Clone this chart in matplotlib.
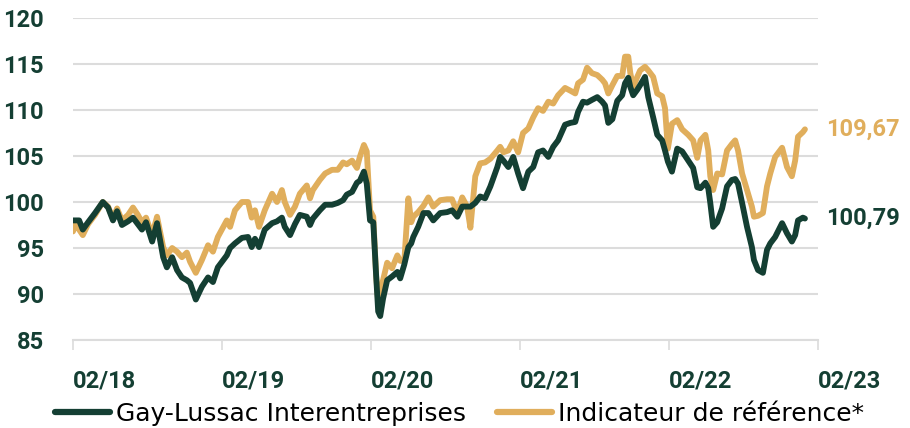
import matplotlib
matplotlib.use("Agg")
import matplotlib.pyplot as plt
import pandas as pd

dates = [
    "2018-02-28", "2018-03-07", "2018-03-15", "2018-03-24", "2018-04-06", "2018-04-23",
    "2018-05-12", "2018-05-25", "2018-06-06", "2018-06-16", "2018-06-28", "2018-07-13",
    "2018-07-25", "2018-08-06", "2018-08-16", "2018-08-26", "2018-09-10", "2018-09-22",
    "2018-10-07", "2018-10-16", "2018-10-29", "2018-11-10", "2018-11-22", "2018-12-04",
    "2018-12-12", "2018-12-26", "2019-01-10", "2019-01-25", "2019-02-06", "2019-02-18",
    "2019-03-12", "2019-03-20", "2019-04-01", "2019-04-18", "2019-05-03", "2019-05-12",
    "2019-05-20", "2019-05-30", "2019-06-13", "2019-07-01", "2019-07-13", "2019-07-25",
    "2019-08-01", "2019-08-14", "2019-08-26", "2019-09-07", "2019-09-24", "2019-10-02",
    "2019-10-09", "2019-10-26", "2019-11-08", "2019-11-25", "2019-12-09", "2019-12-22",
    "2019-12-31", "2020-01-13", "2020-01-25", "2020-02-01", "2020-02-11", "2020-02-18",
    "2020-02-26", "2020-03-05", "2020-03-12", "2020-03-17", "2020-03-22", "2020-03-29",
    "2020-04-08", "2020-04-20", "2020-05-03", "2020-05-10", "2020-05-20", "2020-05-30",
    "2020-06-06", "2020-06-11", "2020-06-23", "2020-07-06", "2020-07-18", "2020-07-30",
    "2020-08-16", "2020-09-02", "2020-09-14", "2020-09-27", "2020-10-09", "2020-10-21",
    "2020-10-29", "2020-11-10", "2020-11-22", "2020-12-04", "2020-12-17", "2021-01-03",
    "2021-01-10", "2021-01-18", "2021-01-30", "2021-02-11", "2021-02-23", "2021-03-07",
    "2021-03-20", "2021-04-01", "2021-04-13", "2021-04-25", "2021-05-08", "2021-05-20",
    "2021-06-01", "2021-06-18", "2021-07-01", "2021-07-13", "2021-07-20", "2021-08-01",
    "2021-08-11", "2021-08-23", "2021-09-05", "2021-09-17", "2021-09-24", "2021-10-02",
    "2021-10-12", "2021-10-24", "2021-11-05", "2021-11-12", "2021-11-20", "2021-11-25",
    "2021-12-02", "2021-12-12", "2021-12-19", "2021-12-31", "2022-01-08", "2022-01-20",
    "2022-01-30", "2022-02-11", "2022-02-18", "2022-02-25", "2022-03-07", "2022-03-20",
    "2022-04-01", "2022-04-16", "2022-04-28", "2022-05-08", "2022-05-16", "2022-05-28",
    "2022-06-04", "2022-06-09", "2022-06-16", "2022-06-26", "2022-07-08", "2022-07-20",
    "2022-08-01", "2022-08-09", "2022-08-16", "2022-08-26", "2022-09-07", "2022-09-19",
    "2022-09-24", "2022-10-04", "2022-10-16", "2022-10-26", "2022-11-03", "2022-11-15",
    "2022-12-02", "2022-12-14", "2022-12-26", "2023-01-03", "2023-01-10", "2023-01-22",
    "2023-01-27",
]

fund = [
    98.0, 98.0, 98.0, 97.0, 97.8, 98.8,
    100.0, 99.4, 98.0, 99.0, 97.5, 97.9,
    98.3, 97.6, 97.0, 97.8, 95.7, 97.7,
    94.0, 92.9, 94.0, 92.6, 91.8, 91.5,
    91.2, 89.4, 90.8, 91.8, 91.3, 92.9,
    94.2, 95.0, 95.5, 96.1, 96.2, 95.1,
    96.0, 95.1, 97.0, 97.7, 97.9, 98.3,
    97.3, 96.4, 97.6, 98.6, 98.4, 97.5,
    98.2, 99.1, 99.7, 99.7, 99.9, 100.2,
    100.8, 101.1, 102.1, 102.3, 103.3, 102.0,
    98.0, 97.8, 92.0, 88.1, 87.6, 89.5,
    91.5, 91.9, 92.4, 91.7, 93.2, 95.1,
    95.5, 96.2, 97.3, 98.8, 98.8, 98.0,
    98.8, 98.9, 99.1, 98.4, 99.5, 99.5,
    99.5, 99.9, 100.6, 100.4, 101.7, 103.8,
    104.9, 104.5, 103.8, 104.9, 103.1, 101.5,
    103.3, 103.8, 105.4, 105.6, 104.9, 106.0,
    106.7, 108.4, 108.6, 108.7, 109.8, 110.9,
    110.8, 111.1, 111.4, 110.9, 110.5, 108.6,
    109.0, 111.0, 111.6, 112.9, 113.5, 112.5,
    111.6, 112.2, 112.7, 113.6, 111.4, 109.2,
    107.3, 106.7, 105.6, 104.4, 103.3, 105.8,
    105.5, 104.5, 103.7, 101.6, 101.5, 102.1,
    101.5, 99.9, 97.3, 97.8, 99.3, 101.7,
    102.4, 102.5, 102.0, 99.9, 97.3, 95.1,
    93.7, 92.6, 92.3, 94.8, 95.5, 96.2,
    97.7, 96.6, 95.7, 96.4, 98.0, 98.3,
    98.2,
]

benchmark = [
    96.8, 97.8, 97.0, 96.4, 97.6, 98.6,
    100.0, 99.5, 98.2, 99.3, 98.0, 98.6,
    99.4, 98.6, 97.8, 98.3, 96.4, 98.4,
    95.1, 94.2, 95.0, 94.6, 94.0, 94.5,
    93.5, 92.3, 93.7, 95.3, 94.6, 96.2,
    98.0, 97.3, 99.1, 100.0, 100.0, 98.3,
    99.1, 97.3, 99.1, 100.9, 100.0, 101.3,
    100.0, 98.6, 99.5, 100.9, 101.8, 100.4,
    101.3, 102.4, 103.1, 103.5, 103.5, 104.3,
    104.1, 104.5, 103.7, 104.9, 106.2, 105.5,
    99.1, 98.4, 92.0, 89.2, 90.2, 91.5,
    93.4, 92.8, 94.2, 93.6, 93.6, 100.4,
    97.8, 98.4, 98.9, 99.6, 100.5, 99.5,
    100.2, 100.3, 100.3, 98.8, 100.5, 99.5,
    97.2, 102.8, 104.2, 104.3, 104.7, 105.6,
    106.0, 105.4, 105.6, 106.6, 105.4, 107.5,
    108.0, 109.2, 110.2, 109.9, 110.9, 110.7,
    111.6, 112.4, 112.1, 111.8, 112.9, 113.3,
    114.6, 114.0, 113.8, 113.3, 112.9, 111.8,
    112.7, 113.7, 113.7, 115.8, 115.8, 114.0,
    112.5, 113.6, 114.3, 114.7, 114.3, 113.6,
    111.8, 111.5, 110.2, 105.8, 108.5, 108.9,
    107.9, 107.3, 106.7, 104.8, 106.7, 107.3,
    105.6, 102.8, 101.3, 103.1, 103.0, 105.6,
    106.3, 106.7, 105.6, 103.1, 101.3, 99.5,
    98.4, 98.5, 98.8, 101.7, 103.1, 104.9,
    105.9, 103.8, 102.8, 104.5, 107.1, 107.6,
    107.9,
]

series_names = ["Gay-Lussac Interentreprises", "Indicateur de référence*"]
end_labels = ["100,79", "109,67"]
tick_dates = ["2018-02-28", "2019-02-28", "2020-02-28", "2021-02-28", "2022-02-28", "2023-02-28"]
tick_labels = ["02/18", "02/19", "02/20", "02/21", "02/22", "02/23"]
y_ticks = [85, 90, 95, 100, 105, 110, 115, 120]

GREEN = "#143f33"
GOLD = "#e0ae5c"
GRID = "#dcdcdc"

plt.rcParams['font.family'] = ['Roboto', 'DejaVu Sans']

x = pd.to_datetime(dates)
xt = pd.to_datetime(tick_dates)

fig = plt.figure(figsize=(9.10, 4.28), dpi=100)
ax = fig.add_axes([73 / 910, 1 - 340 / 428, (818 - 73) / 910, (340 - 18) / 428])

ax.plot(x, benchmark, color=GOLD, lw=4.2, solid_joinstyle='round', solid_capstyle='round',
        label=series_names[1], zorder=3)
ax.plot(x, fund, color=GREEN, lw=4.2, solid_joinstyle='round', solid_capstyle='round',
        label=series_names[0], zorder=4)

ax.set_xlim(xt[0], xt[-1])
ax.set_ylim(85, 120)
ax.set_yticks(y_ticks)
ax.set_yticklabels([str(v) for v in y_ticks])
ax.set_xticks(xt)
ax.set_xticklabels(tick_labels, ha='left')

ax.grid(axis='y', color=GRID, lw=1.5)
ax.set_axisbelow(True)
for s in ['top', 'right', 'left']:
    ax.spines[s].set_visible(False)
ax.spines['bottom'].set_color(GRID)
ax.spines['bottom'].set_linewidth(1.5)

ax.tick_params(axis='y', length=0, pad=21, labelsize=17, labelcolor=GREEN)
ax.tick_params(axis='x', length=7, width=1.2, color=GRID, pad=14, labelsize=17, labelcolor=GREEN)
for lab in ax.get_xticklabels() + ax.get_yticklabels():
    lab.set_fontweight('bold')

ax.annotate(end_labels[0], xy=(x[-1], fund[-1]), xytext=(15, 0), textcoords='offset points',
            ha='left', va='center', color=GREEN, fontsize=17, fontweight='bold')
ax.annotate(end_labels[1], xy=(x[-1], benchmark[-1]), xytext=(15, 0), textcoords='offset points',
            ha='left', va='center', color=GOLD, fontsize=17, fontweight='bold')

h1, = ax.plot([], [], color=GREEN, lw=4.5, solid_capstyle='round')
h2, = ax.plot([], [], color=GOLD, lw=4.5, solid_capstyle='round')
fig.legend([h1, h2], series_names, loc='center', bbox_to_anchor=(0.505, 1 - 414 / 428),
           ncol=2, frameon=False, handlelength=2.2, handletextpad=0.25,
           columnspacing=1.25, borderpad=0, borderaxespad=0,
           prop={'family': ['DejaVu Sans'], 'size': 18})

fig.savefig("out.png", dpi=100)
